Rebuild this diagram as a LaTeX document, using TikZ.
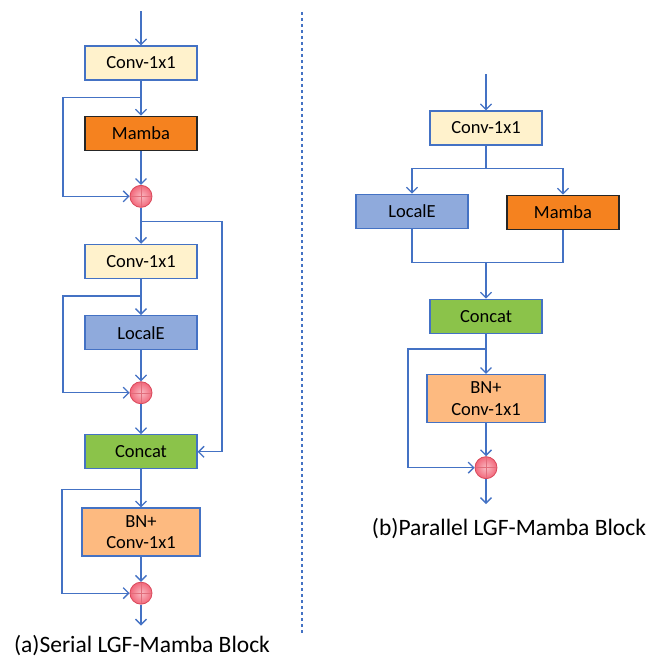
\documentclass[tikz,border=0pt]{standalone}
\usepackage{fontspec}
\setmainfont{Carlito}
\usepackage{tikz}
\usetikzlibrary{arrows.meta, positioning}
\definecolor{lgfblue}{HTML}{4472C4}
\definecolor{convfill}{HTML}{FFF2CC}
\definecolor{mambafill}{HTML}{F5821F}
\definecolor{localfill}{HTML}{8FAADC}
\definecolor{concatfill}{HTML}{8BC34A}
\definecolor{bnfill}{HTML}{FDBA80}
\definecolor{addfill}{HTML}{F2677A}
\definecolor{addline}{HTML}{D9485A}

\begin{document}
\begin{tikzpicture}[
    x=1pt, y=-1pt,
    font=\fontsize{18.5}{21.5}\selectfont,
    block/.style={rectangle, draw=lgfblue, line width=1.3pt, minimum width=112pt, minimum height=34pt, inner sep=2pt, align=center},
    conv/.style={block, fill=convfill},
    mamba/.style={block, draw=black!85, fill=mambafill},
    locale/.style={block, fill=localfill},
    concat/.style={block, fill=concatfill},
    bnconv/.style={block, fill=bnfill, minimum width=118pt, minimum height=48pt},
    add/.style={circle, draw=addline, thick, inner color=addfill!45!white, outer color=addfill, minimum size=22pt, inner sep=0pt,
        path picture={\draw[addline!80, thin] (path picture bounding box.north) -- (path picture bounding box.south)
            (path picture bounding box.west) -- (path picture bounding box.east);}},
    arrow/.style={-{Straight Barb[length=5.5pt, width=11pt]}, draw=lgfblue, line width=1.3pt},
    line/.style={draw=lgfblue, line width=1.3pt},
    divider/.style={draw=lgfblue, line width=1.2pt, dash pattern=on 3pt off 3pt},
    caption/.style={font=\fontsize{23.5}{26}\selectfont}
]
\useasboundingbox (0,0) rectangle (658,663);

% Serial block
\node[conv] (conva) at (141,63) {Conv-1x1};
\node[mamba, below=35pt of conva] (mambaa) {Mamba};
\node[add, below=34pt of mambaa] (adda) {};
\node[conv, below=36pt of adda] (convb) {Conv-1x1};
\node[locale, below=36pt of convb] (locala) {LocalE};
\node[add, below=31pt of locala] (addb) {};
\node[concat, below=30pt of addb] (concata) {Concat};
\node[bnconv, below=38pt of concata] (bna) {BN+\\Conv-1x1};
\node[add, below=25pt of bna] (addc) {};

\coordinate[above=34pt of conva.north] (ina);
\coordinate[below=17pt of conva.south] (splita);
\coordinate[below=14pt of adda.south] (splitb);
\coordinate[below=17pt of convb.south] (splitc);
\coordinate[below=20pt of concata.south] (splitd);
\coordinate[below=21pt of addc.south] (outa);

% Parallel block
\node[conv] (convc) at (486,128) {Conv-1x1};
\node[locale, below=48pt of convc, xshift=-74pt] (localb) {LocalE};
\node[mamba, below=49pt of convc, xshift=77pt] (mambab) {Mamba};
\node[concat, below=153pt of convc] (concatb) {Concat};
\node[bnconv, below=40pt of concatb] (bnb) {BN+\\Conv-1x1};
\node[add, below=33pt of bnb] (addd) {};

\coordinate[above=36pt of convc.north] (inb);
\coordinate[below=23pt of convc.south] (splite);
\coordinate[above=36pt of concatb.north] (joinb);
\coordinate[below=15pt of concatb.south] (splitf);
\coordinate[below=25pt of addd.south] (outb);

% Captions
\node[caption] (capa) at (142,646) {(a)Serial LGF-Mamba Block};
\node[caption] (capb) at (509,529) {(b)Parallel LGF-Mamba Block};

% Divider
\coordinate (divtop) at (302,12);
\coordinate (divbot) at (302,635);
\draw[divider] (divtop) -- (divbot);

% Arrows (serial)
\draw[arrow] (ina) -- (conva);
\draw[arrow] (conva) -- (mambaa);
\draw[arrow] (mambaa) -- (adda);
\draw[arrow] (adda) -- (convb);
\draw[arrow] (convb) -- (locala);
\draw[arrow] (locala) -- (addb);
\draw[arrow] (addb) -- (concata);
\draw[arrow] (concata) -- (bna);
\draw[arrow] (bna) -- (addc);
\draw[arrow] (addc) -- (outa);
\draw[arrow] (splita) -- ++(-78,0) |- (adda);
\draw[arrow] (splitc) -- ++(-78,0) |- (addb);
\draw[arrow] (splitd) -- ++(-79,0) |- (addc);
\draw[arrow] (splitb) -- ++(81,0) |- (concata.east);

% Arrows (parallel)
\draw[arrow] (inb) -- (convc);
\draw[arrow] (convc) -- (splite) -| (localb);
\draw[arrow] (splite) -| (mambab);
\draw[line] (localb) |- (joinb) -| (mambab);
\draw[arrow] (joinb) -- (concatb);
\draw[arrow] (concatb) -- (bnb);
\draw[arrow] (bnb) -- (addd);
\draw[arrow] (addd) -- (outb);
\draw[arrow] (splitf) -- ++(-78,0) |- (addd);

\end{tikzpicture}
\end{document}
